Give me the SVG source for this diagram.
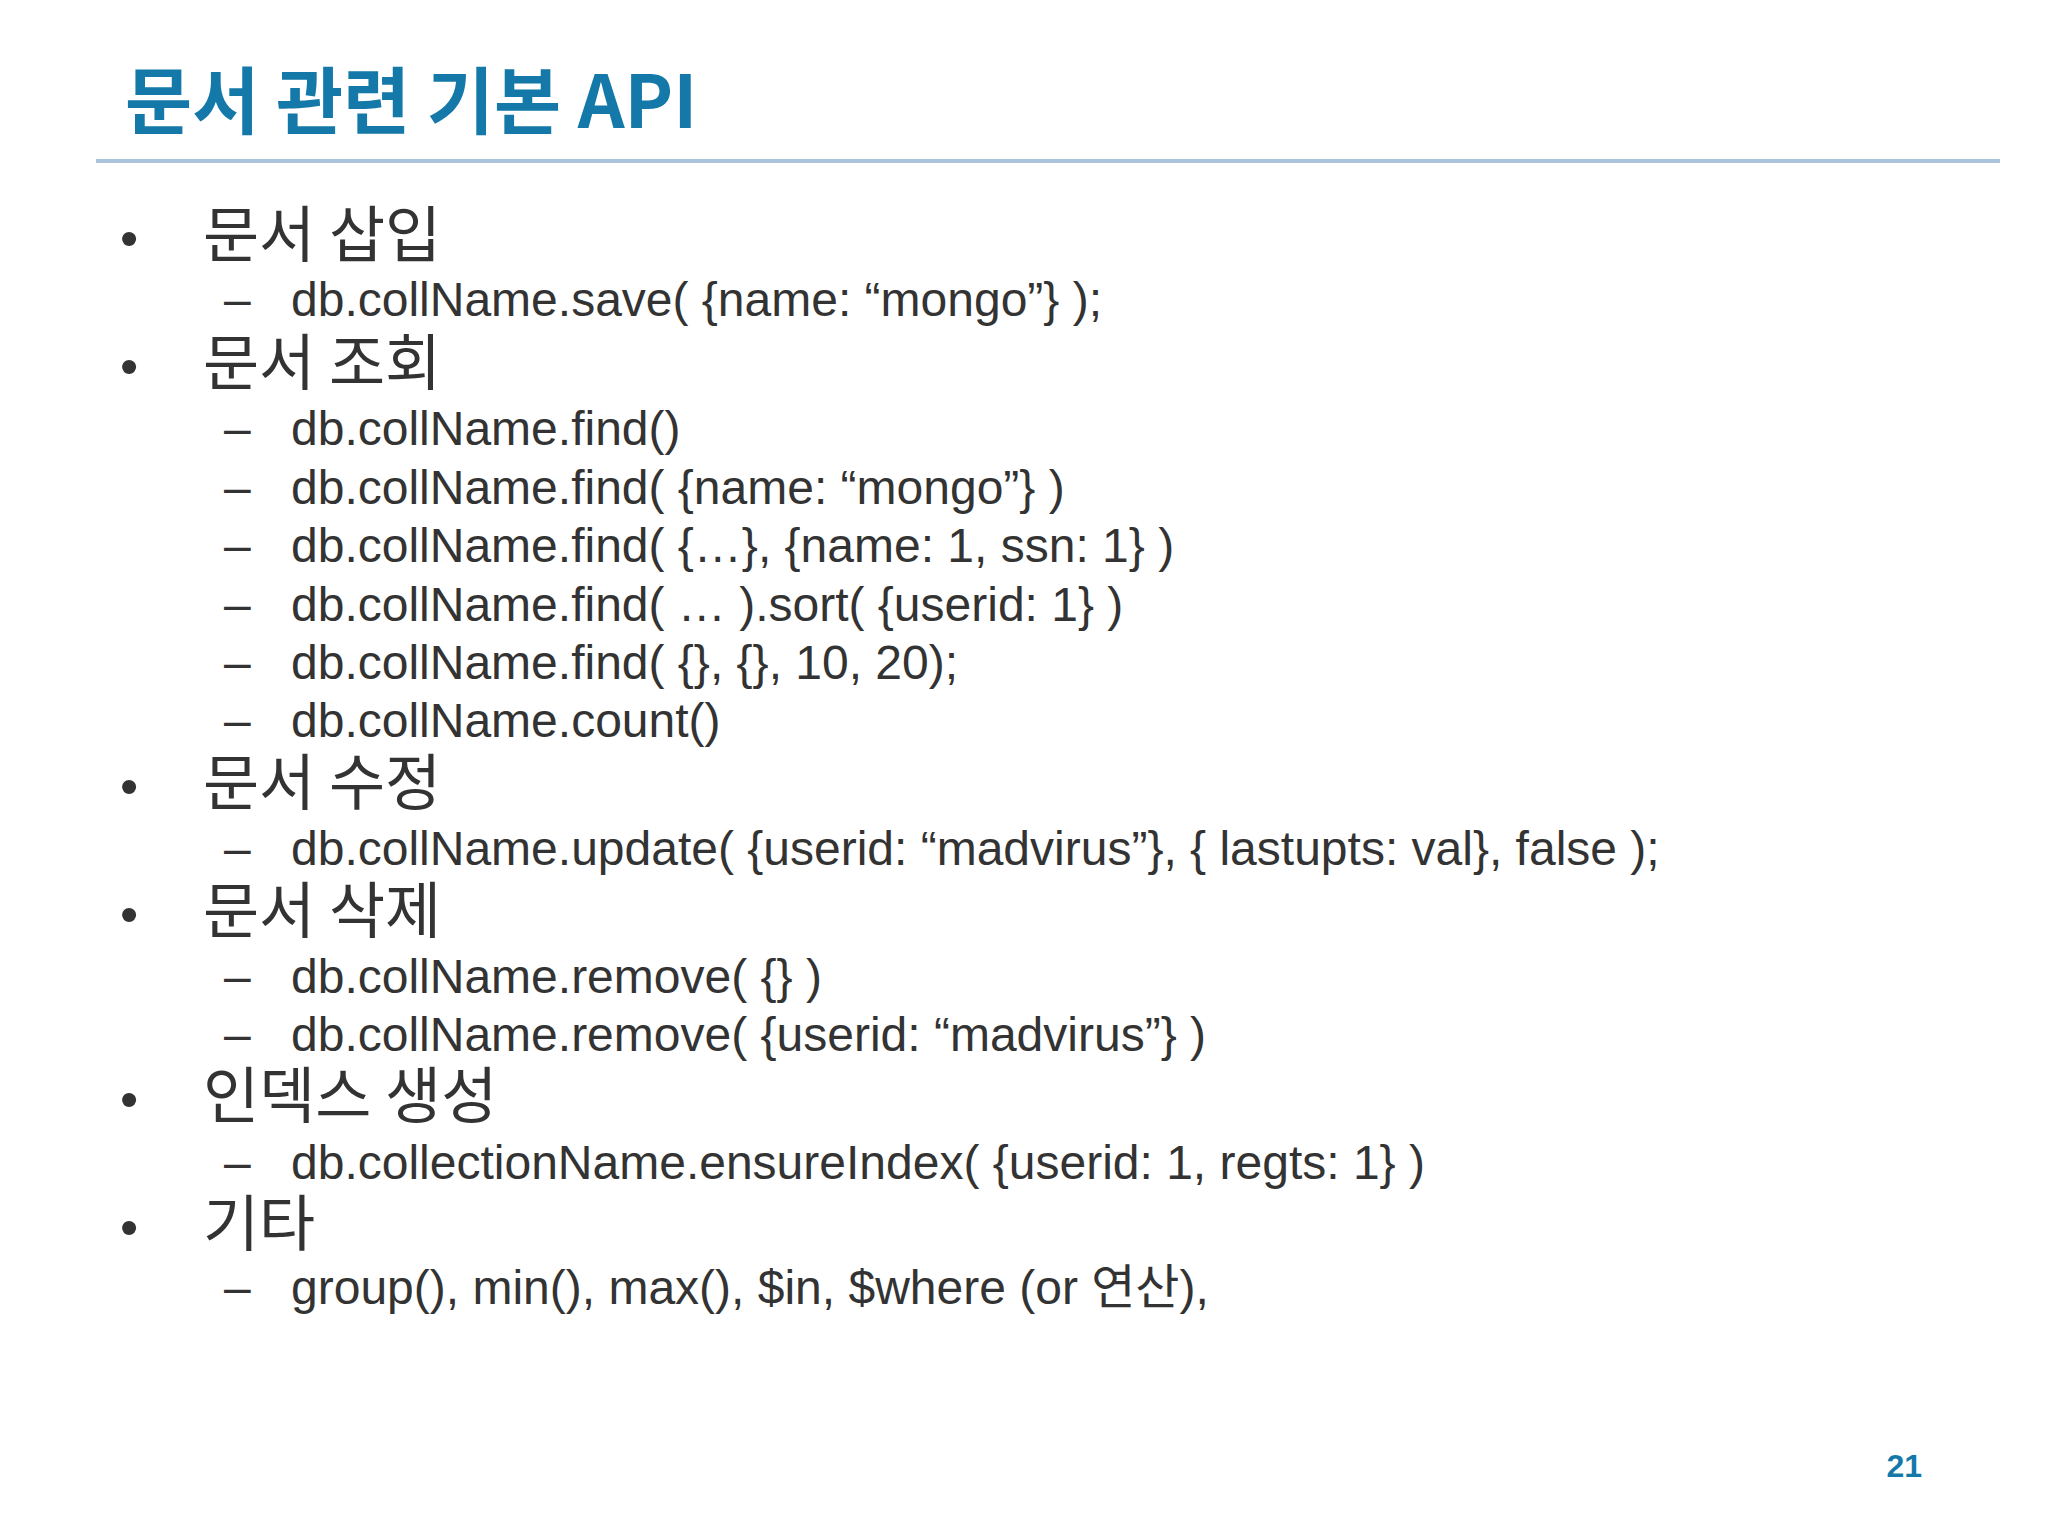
<svg xmlns="http://www.w3.org/2000/svg" width="2048" height="1536" viewBox="0 0 2048 1536">
<style>
.t{font-family:"Noto Sans CJK KR","Noto Sans",sans-serif;font-weight:bold;fill:#1479a8;font-size:73px}
.h{font-family:"Noto Sans CJK KR","Noto Sans",sans-serif;fill:#333;font-size:61px}
.s{font-family:"Liberation Sans","Noto Sans CJK KR",sans-serif;fill:#333;font-size:48px}
.b{font-family:"Liberation Sans",sans-serif;fill:#333;font-size:52px}
</style>
<rect width="2048" height="1536" fill="#fff"/>
<g id="title"><text class="t" x="125" y="128">문서 관련 기본 API</text>
<line x1="96" y1="161" x2="2000" y2="161" stroke="#a9c4dc" stroke-width="4"/></g>
<g id="body">
<g class="b"><text x="120" y="256">•</text><text x="120" y="384">•</text><text x="120" y="804">•</text><text x="120" y="932">•</text><text x="120" y="1117">•</text><text x="120" y="1245">•</text></g>
<text class="h" x="203" y="257">문서 삽입</text>
<text class="h" x="203" y="385">문서 조회</text>
<text class="h" x="203" y="805">문서 수정</text>
<text class="h" x="203" y="933">문서 삭제</text>
<text class="h" x="203" y="1118">인덱스 생성</text>
<text class="h" x="203" y="1246">기타</text>
<g class="s">
<text x="224" y="316">–</text><text x="291" y="316">db.collName.save( {name: “mongo”} );</text>
<text x="224" y="445">–</text><text x="291" y="445">db.collName.find()</text>
<text x="224" y="504">–</text><text x="291" y="504">db.collName.find( {name: “mongo”} )</text>
<text x="224" y="562">–</text><text x="291" y="562">db.collName.find( {…}, {name: 1, ssn: 1} )</text>
<text x="224" y="621">–</text><text x="291" y="621">db.collName.find( … ).sort( {userid: 1} )</text>
<text x="224" y="679">–</text><text x="291" y="679">db.collName.find( {}, {}, 10, 20);</text>
<text x="224" y="737">–</text><text x="291" y="737">db.collName.count()</text>
<text x="224" y="865">–</text><text x="291" y="865">db.collName.update( {userid: “madvirus”}, { lastupts: val}, false );</text>
<text x="224" y="993">–</text><text x="291" y="993">db.collName.remove( {} )</text>
<text x="224" y="1051">–</text><text x="291" y="1051">db.collName.remove( {userid: “madvirus”} )</text>
<text x="224" y="1179">–</text><text x="291" y="1179">db.collectionName.ensureIndex( {userid: 1, regts: 1} )</text>
<text x="224" y="1304">–</text><text x="291" y="1304">group(), min(), max(), $in, $where (or 연산),</text>
</g>
</g>
<text id="page" x="1922" y="1477" text-anchor="end" style="font-family:'Liberation Sans',sans-serif;font-weight:bold;font-size:32px;fill:#1479a8">21</text>
</svg>
